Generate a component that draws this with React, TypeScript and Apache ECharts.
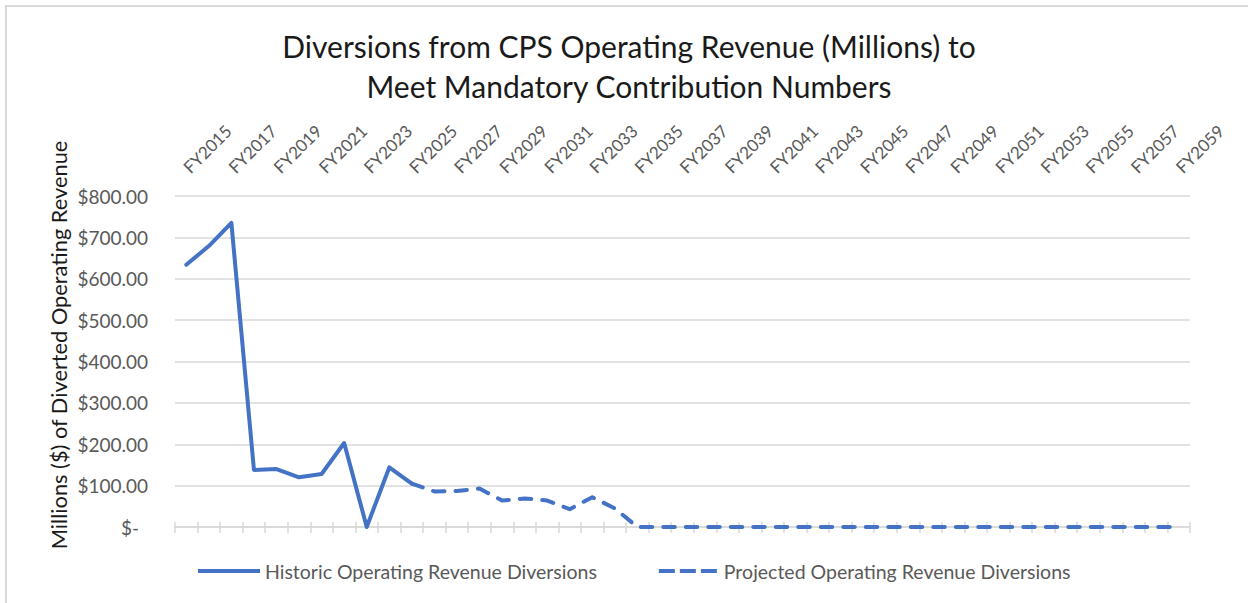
import React, { useEffect, useRef } from "react";
import * as echarts from "echarts";

const years: string[] = [
  "FY2015", "FY2016", "FY2017", "FY2018", "FY2019", "FY2020", "FY2021", "FY2022", "FY2023",
  "FY2024", "FY2025", "FY2026", "FY2027", "FY2028", "FY2029", "FY2030", "FY2031", "FY2032",
  "FY2033", "FY2034", "FY2035", "FY2036", "FY2037", "FY2038", "FY2039", "FY2040", "FY2041",
  "FY2042", "FY2043", "FY2044", "FY2045", "FY2046", "FY2047", "FY2048", "FY2049", "FY2050",
  "FY2051", "FY2052", "FY2053", "FY2054", "FY2055", "FY2056", "FY2057", "FY2058", "FY2059",
];

// FY2015 - FY2025
const historicValues: number[] = [634, 679, 735, 138, 140, 120, 128, 203, 0, 144, 105];

// FY2025 - FY2059
const projectedValues: number[] = [
  105, 86, 87, 93, 64, 69, 64, 43, 72, 45,
  0, 0, 0, 0, 0, 0, 0, 0, 0, 0, 0, 0, 0, 0, 0, 0, 0, 0, 0, 0, 0, 0, 0, 0, 0,
];

const yTicks: number[] = [0, 100, 200, 300, 400, 500, 600, 700, 800];

const titleLines: string[] = [
  "Diversions from CPS Operating Revenue (Millions) to",
  "Meet Mandatory Contribution Numbers",
];

const yAxisTitle = "Millions ($) of Diverted Operating Revenue";

const seriesNames: string[] = [
  "Historic Operating Revenue Diversions",
  "Projected Operating Revenue Diversions",
];

const FONT = "Lato, 'Noto Sans', sans-serif";
const BLUE = "#4472C4";
const GRID = "#D9D9D9";

export default function App() {
  const ref = useRef<HTMLDivElement>(null);

  useEffect(() => {
    document.body.style.margin = "0";
    if (!ref.current) return;
    const chart = echarts.init(ref.current, undefined, { renderer: "svg" });

    const historicData = years.map((_, i) => (i < historicValues.length ? historicValues[i] : null));
    const projStart = years.length - projectedValues.length;
    const projectedData = years.map((_, i) => (i >= projStart ? projectedValues[i - projStart] : null));

    const option: echarts.EChartsOption = {
      animation: false,
      backgroundColor: "#ffffff",
      graphic: [
        {
          type: "rect",
          shape: { x: 6, y: 6, width: 1400, height: 800 },
          style: { fill: "none", stroke: GRID, lineWidth: 2 },
          silent: true,
          z: -1,
        },
        {
          type: "text",
          x: 629,
          y: 46,
          style: {
            text: titleLines[0],
            font: `30px ${FONT}`,
            fill: "#1a1a1a",
            textAlign: "center",
            textVerticalAlign: "middle",
          },
        },
        {
          type: "text",
          x: 629,
          y: 86,
          style: {
            text: titleLines[1],
            font: `30px ${FONT}`,
            fill: "#1a1a1a",
            textAlign: "center",
            textVerticalAlign: "middle",
          },
        },
        {
          type: "text",
          x: 58,
          y: 345,
          rotation: Math.PI / 2,
          style: {
            text: yAxisTitle,
            font: `21.8px ${FONT}`,
            fill: "#1a1a1a",
            textAlign: "center",
            textVerticalAlign: "middle",
          },
        },
      ],
      grid: { left: 175, right: 58, top: 196, bottom: 76 },
      legend: {
        left: 193,
        top: 556,
        itemWidth: 62,
        itemHeight: 4,
        itemGap: 62,
        textStyle: { fontFamily: FONT, fontSize: 19.5, color: "#595959" },
        data: [
          { name: seriesNames[0], icon: "path://M0,0h62v4h-62z" },
          {
            name: seriesNames[1],
            icon: "path://M0,0h16v4h-16z M21,0h16v4h-16z M42,0h16v4h-16z",
          },
        ],
      },
      xAxis: [
        {
          type: "category",
          data: years,
          position: "bottom",
          boundaryGap: true,
          axisLine: { show: true, lineStyle: { color: GRID, width: 1.5 } },
          axisTick: { show: true, interval: 0, length: 6, lineStyle: { color: GRID, width: 1.5 } },
          axisLabel: { show: false },
          splitLine: { show: false },
        },
        {
          type: "category",
          data: years,
          position: "top",
          boundaryGap: true,
          axisLine: { show: false },
          axisTick: { show: false },
          axisLabel: {
            show: true,
            interval: 1,
            rotate: -45,
            margin: 26,
            fontFamily: FONT,
            fontSize: 17,
            color: "#595959",
          },
          splitLine: { show: false },
        },
        {
          type: "category",
          data: years,
          position: "bottom",
          boundaryGap: true,
          axisLine: { show: false },
          axisTick: { show: true, inside: true, interval: 0, length: 5, lineStyle: { color: GRID, width: 1.5 } },
          axisLabel: { show: false },
          splitLine: { show: false },
        },
      ],
      yAxis: {
        type: "value",
        min: yTicks[0],
        max: yTicks[yTicks.length - 1],
        interval: 100,
        axisLine: { show: false },
        axisTick: { show: false },
        splitLine: { show: true, lineStyle: { color: GRID, width: 1.5 } },
        axisLabel: {
          margin: 27,
          fontFamily: FONT,
          fontSize: 19,
          color: "#595959",
          formatter: (v: number) => (v === 0 ? "{z|$-}" : `$${v.toFixed(2)}`),
          rich: {
            z: { fontFamily: FONT, fontSize: 19, color: "#595959", padding: [0, 9, 0, 0] },
          },
        },
      },
      series: [
        {
          name: seriesNames[0],
          type: "line",
          xAxisIndex: 0,
          data: historicData,
          symbol: "none",
          showSymbol: false,
          lineStyle: { color: BLUE, width: 4, cap: "round", join: "round" },
          itemStyle: { color: BLUE },
          connectNulls: false,
          z: 3,
        },
        {
          name: seriesNames[1],
          type: "line",
          xAxisIndex: 0,
          data: projectedData,
          symbol: "none",
          showSymbol: false,
          lineStyle: { color: BLUE, width: 4, type: [11.5, 11], cap: "round", join: "round" },
          itemStyle: { color: BLUE },
          connectNulls: false,
          z: 3,
        },
      ],
    };

    chart.setOption(option);
    return () => chart.dispose();
  }, []);

  return <div ref={ref} style={{ width: 1248, height: 603 }} />;
}
